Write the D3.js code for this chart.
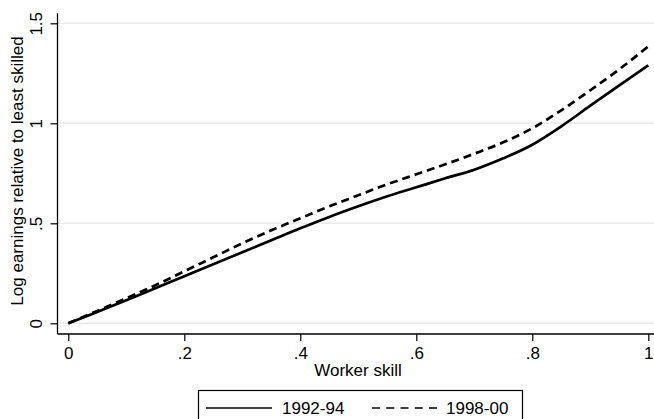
<!DOCTYPE html>
<html><head><meta charset="utf-8">
<script src="https://cdn.jsdelivr.net/npm/d3@7"></script>
<style>body{margin:0;background:#fff}svg{display:block}text{font-family:"Liberation Sans",Arial,sans-serif;fill:#000}</style>
</head><body><svg id="c" width="654" height="419"></svg>
<script>
const skill = [0,.05,.1,.15,.2,.25,.3,.35,.4,.45,.5,.55,.6,.65,.7,.75,.8,.85,.9,.95,1];
const earn9294 = [0,.057,.115,.175,.235,.295,.355,.415,.475,.532,.585,.635,.68,.725,.768,.825,.893,.985,1.088,1.19,1.29];
const earn9800 = [0,.062,.125,.19,.26,.33,.4,.465,.525,.585,.64,.695,.745,.795,.848,.905,.975,1.065,1.165,1.27,1.385];
const xTicks = [0,.2,.4,.6,.8,1];
const xTickLabels = ["0",".2",".4",".6",".8","1"];
const yTicks = [0,.5,1,1.5];
const yTickLabels = ["0",".5","1","1.5"];
const seriesNames = ["1992-94","1998-00"];

const svg = d3.select("#c");
const x = d3.scaleLinear().domain([0,1]).range([68.3,648.3]);
const y = d3.scaleLinear().domain([0,1.5]).range([323.3,23.3]);
const left = 57.5, right = 654, bottom = 334;

// gridlines
svg.append("g").selectAll("line").data(yTicks).join("line")
  .attr("x1",left).attr("x2",right).attr("y1",d=>y(d)).attr("y2",d=>y(d))
  .attr("stroke","#eaeaea").attr("stroke-width",1.5);

// y axis
const ya = svg.append("g").attr("transform",`translate(${left},0)`)
  .call(d3.axisLeft(y).tickValues(yTicks).tickSize(7).tickFormat((d,i)=>yTickLabels[i]));
ya.select(".domain").attr("d",`M0,${bottom}V${y(1.5)-10}`).attr("stroke","#000").attr("stroke-width",1.3);
ya.selectAll(".tick line").attr("stroke","#000").attr("stroke-width",1.2);
ya.selectAll(".tick text").attr("font-size",17).attr("font-family","Liberation Sans, Arial, sans-serif")
  .attr("transform","rotate(-90)").attr("x",0).attr("y",-16).attr("dy",0).attr("text-anchor","middle");

// x axis
const xa = svg.append("g").attr("transform",`translate(0,${bottom})`)
  .call(d3.axisBottom(x).tickValues(xTicks).tickSize(7).tickFormat((d,i)=>xTickLabels[i]));
xa.select(".domain").attr("d",`M${left},0H${right}`).attr("stroke","#000").attr("stroke-width",1.3);
xa.selectAll(".tick line").attr("stroke","#000").attr("stroke-width",1.2);
xa.selectAll(".tick text").attr("font-size",17).attr("font-family","Liberation Sans, Arial, sans-serif")
  .attr("y",25).attr("dy",0);

// axis titles
svg.append("text").attr("x",358).attr("y",376).attr("text-anchor","middle").attr("font-size",17).text("Worker skill");
svg.append("text").attr("transform","translate(23,171) rotate(-90)").attr("text-anchor","middle").attr("font-size",17)
  .text("Log earnings relative to least skilled");

// lines
const line = d3.line().x(d=>x(d[0])).y(d=>y(d[1])).curve(d3.curveMonotoneX);
svg.append("path").datum(skill.map((s,i)=>[s,earn9294[i]])).attr("d",line)
  .attr("fill","none").attr("stroke","#000").attr("stroke-width",2.7);
svg.append("path").datum(skill.map((s,i)=>[s,earn9800[i]])).attr("d",line)
  .attr("fill","none").attr("stroke","#000").attr("stroke-width",2.7).attr("stroke-dasharray","8,5");

// legend
const lg = svg.append("g");
lg.append("rect").attr("x",198.5).attr("y",390.5).attr("width",324).attr("height",40)
  .attr("fill","#fff").attr("stroke","#000").attr("stroke-width",1.2);
lg.append("line").attr("x1",206).attr("x2",272).attr("y1",408).attr("y2",408).attr("stroke","#000").attr("stroke-width",1.5);
lg.append("text").attr("x",282).attr("y",414).attr("font-size",17).text(seriesNames[0]);
lg.append("line").attr("x1",372).attr("x2",437).attr("y1",408).attr("y2",408).attr("stroke","#000").attr("stroke-width",1.5).attr("stroke-dasharray","8,6.25");
lg.append("text").attr("x",446).attr("y",414).attr("font-size",17).text(seriesNames[1]);
</script></body></html>
